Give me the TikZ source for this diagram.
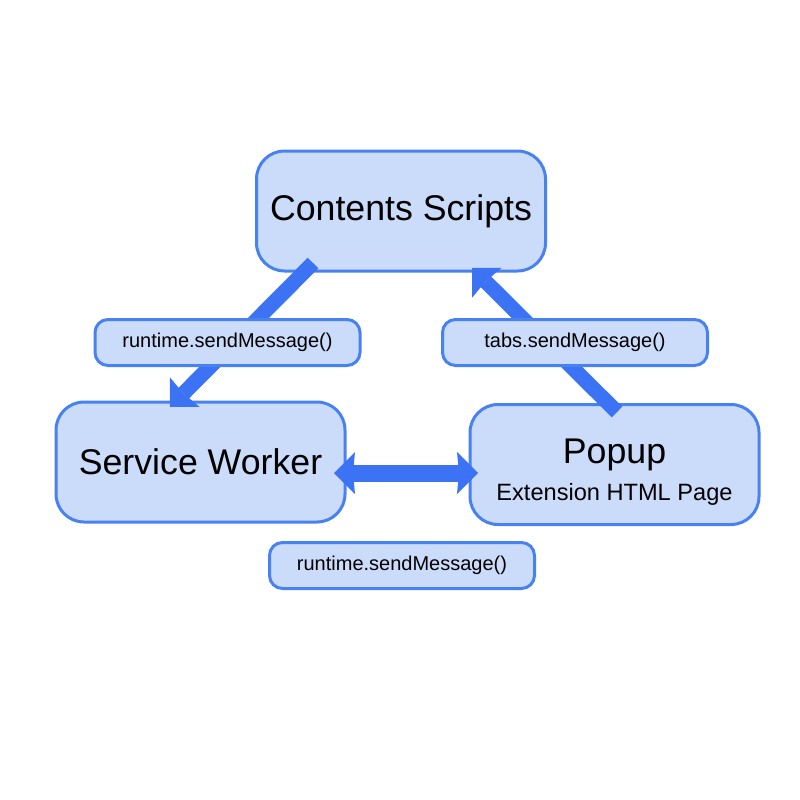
\documentclass[tikz,border=0pt]{standalone}
\usepackage{fontspec}
\setmainfont{Liberation Sans}
\usepackage{tikz}
\usetikzlibrary{arrows.meta, positioning}
\definecolor{boxfill}{RGB}{203,219,250}
\definecolor{boxline}{RGB}{72,130,240}
\definecolor{msgblue}{RGB}{60,115,245}

\begin{document}
\begin{tikzpicture}[x=1pt, y=-1pt,
		part/.style={rectangle, rounded corners=28pt, draw=boxline, fill=boxfill, line width=3pt, minimum width=289pt, minimum height=120pt, inner sep=0pt, font=\fontsize{35.7pt}{40pt}\selectfont},
		call/.style={rectangle, rounded corners=13pt, draw=boxline, fill=boxfill, line width=3pt, minimum width=265pt, minimum height=46pt, inner sep=0pt, font=\fontsize{20pt}{24pt}\selectfont},
		msg/.style={draw=msgblue, line width=15pt, line cap=butt, -{Stealth[length=21pt, width=42pt, inset=2pt, line width=0pt]}}]
			\useasboundingbox (0,0) rectangle (800,800);
			% the three parts of the extension
			\node[part] (contents) at (401,211) {Contents Scripts};
			\node[part] (worker) at (200.5,462) {Service Worker};
			\node[part] (popup) at (614.5,464.5) {};
			\node[anchor=base, font=\fontsize{35.7pt}{40pt}\selectfont, inner sep=0pt] (popuptitle) at (614.5,463) {Popup};
			\node[anchor=base, font=\fontsize{23.6pt}{28pt}\selectfont, inner sep=0pt] (popupsub) at (614.5,500) {Extension HTML Page};
			% message arrows
			\coordinate (cs-out) at (313,263);
			\coordinate (sw-in) at (170,407);
			\coordinate (pp-out) at (617,412);
			\coordinate (cs-in) at (472,268);
			\coordinate (sw-end) at (334,473);
			\coordinate (pp-end) at (478,473);
			\draw[msg] (cs-out) -- (sw-in);
			\draw[msg] (pp-out) -- (cs-in);
			\draw[msg, line width=17pt, {Stealth[length=21pt, width=42pt, inset=2pt, line width=0pt]}-{Stealth[length=21pt, width=42pt, inset=2pt, line width=0pt]}] (sw-end) -- (pp-end);
			% api calls
			\node[call] (runtimecall) at (227.5,342.5) {runtime.sendMessage()};
			\node[call] (tabscall) at (575,342.5) {tabs.sendMessage()};
			\node[call] (bothcall) at (402,565.5) {runtime.sendMessage()};
		\end{tikzpicture}
\end{document}
